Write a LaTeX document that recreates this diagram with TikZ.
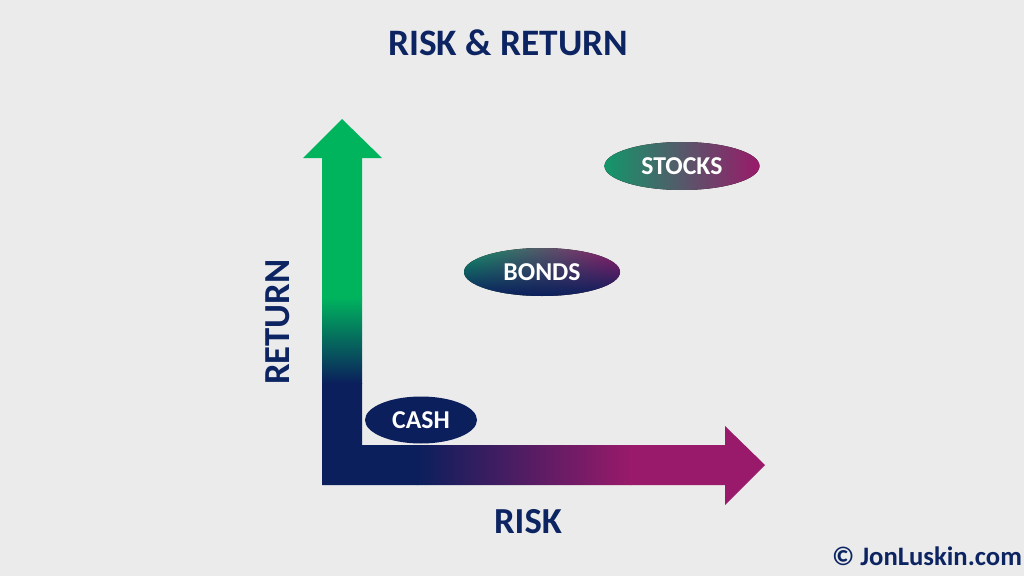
\documentclass[tikz,border=0pt]{standalone}
\usepackage{fontspec}
\setmainfont{Carlito}
\usetikzlibrary{fadings}
\definecolor{bg}{HTML}{EBEBEB}
\definecolor{navy}{HTML}{0B1F5C}
\definecolor{tnavy}{HTML}{0D2462}
\definecolor{grn}{HTML}{00B45E}
\definecolor{mag}{HTML}{991A6A}
\definecolor{sgrn}{HTML}{13976A}
\tikzfading[name=bondfade, top color=transparent!100, bottom color=transparent!0]
\tikzset{
  axislabel/.style={font=\fontsize{27.5}{32}\selectfont\bfseries, text=tnavy, inner sep=0pt},
  pilltext/.style={font=\fontsize{19.3}{22}\selectfont\bfseries, text=white, inner sep=0pt},
}
\begin{document}
\begin{tikzpicture}[x=0.75pt,y=0.75pt]
\useasboundingbox (0,0) rectangle (1024,576);
\fill[bg] (0,0) rectangle (1024,576);
% L-shaped arrows with gradients
\begin{scope}
\clip (322,91) -- (322,418) -- (303,418) -- (342,457) -- (382,418) -- (362,418)
  -- (362,131) -- (725,131) -- (725,150) -- (765,111) -- (725,71) -- (725,91) -- cycle;
\fill[grn] (295,278) rectangle (390,470);
\shade[top color=grn, bottom color=navy] (295,192.5) rectangle (390,279);
\fill[navy] (295,130) rectangle (390,193);
\fill[navy] (295,60) rectangle (418,131.5);
\shade[left color=navy, right color=mag] (417,60) rectangle (631,131.5);
\fill[mag] (630,60) rectangle (780,160);
\end{scope}
% ellipses
\fill[left color=sgrn, right color=mag] (682,410) ellipse [x radius=77.5, y radius=24];
\node[pilltext] (stocks) at (682,410) {STOCKS};
\fill[left color=sgrn, right color=mag] (542,304) ellipse [x radius=78, y radius=24];
\fill[navy, path fading=bondfade] (542,304) ellipse [x radius=78, y radius=24];
\node[pilltext] (bonds) at (542,304) {BONDS};
\fill[navy] (421,156) ellipse [x radius=56, y radius=23.5];
\node[pilltext] (cash) at (421,156) {CASH};
% labels
\node[font=\fontsize{28}{33}\selectfont\bfseries, text=tnavy, inner sep=0pt] (title) at (508,533) {RISK \& RETURN};
\node[axislabel, rotate=90] (ret) at (278,254) {RETURN};
\node[axislabel] (risk) at (528,54) {RISK};
\node[font=\fontsize{20}{24}\selectfont\bfseries, text=tnavy, inner sep=0pt] (copy) at (927,20) {© JonLuskin.com};
\end{tikzpicture}
\end{document}
